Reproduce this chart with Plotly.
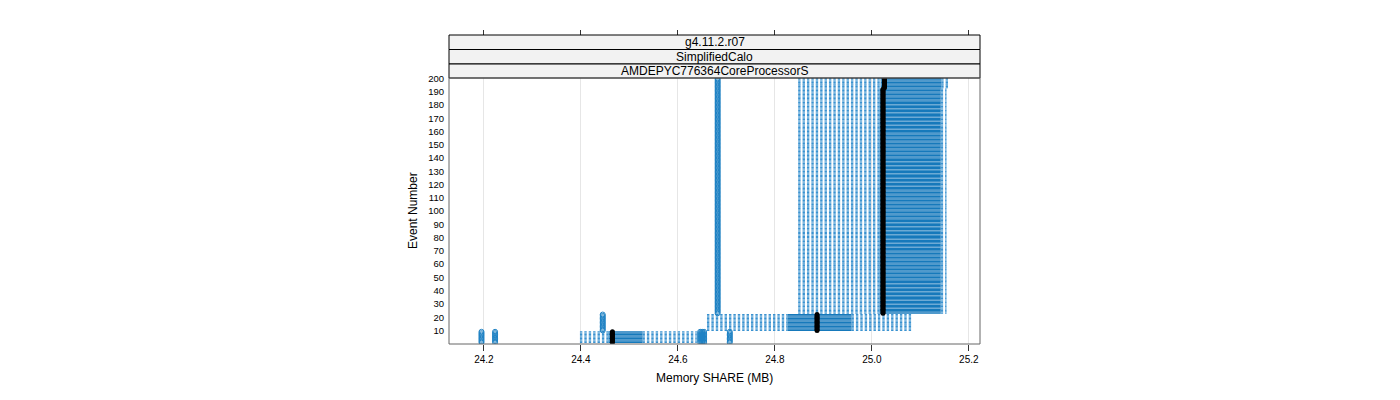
import plotly.graph_objects as go

# one box-and-whisker row per event; consecutive events share the same summary
seg_first = [1, 10, 23, 193]
seg_last = [9, 22, 192, 200]
seg_lo = [24.398, 24.660, 24.848, 24.848]
seg_q1 = [24.457, 24.826, 25.016, 25.018]
seg_med = [24.465, 24.887, 25.023, 25.026]
seg_q3 = [24.527, 24.958, 25.142, 25.143]
seg_hi = [24.639, 25.084, 25.154, 25.158]
seg_out = [
    [24.195, 24.223, 24.646, 24.650, 24.654, 24.707],
    [24.445],
    [24.682],
    [24.682],
]

x_ticks = [24.2, 24.4, 24.6, 24.8, 25.0, 25.2]
x_ticklabels = ["24.2", "24.4", "24.6", "24.8", "25.0", "25.2"]
y_ticks = list(range(10, 201, 10))
strips = ["g4.11.2.r07", "SimplifiedCalo", "AMDEPYC776364CoreProcessorS"]

# panel geometry, in screen pixels; the page body adds an 8px offset
OFF = 8
L, R, T, B = 449 - OFF, 980 - OFF, 78 - OFF, 344 - OFF
TOP = 35 - OFF  # top tick axis sits above the strips
W, H = 1400, 400
xrange = [24.128, 25.223]
yrange = [-0.2, 200.4]

wx, wy, bx, by, mx, my, ox, oy = [], [], [], [], [], [], [], []
for i in range(len(seg_first)):
    for ev in range(seg_first[i], seg_last[i] + 1):
        wx += [seg_lo[i], seg_q1[i], None, seg_q3[i], seg_hi[i], None]
        wy += [ev, ev, None, ev, ev, None]
        bx += [seg_q1[i], seg_q3[i], None]
        by += [ev, ev, None]
        mx.append(seg_med[i])
        my.append(ev)
        for o in seg_out[i]:
            ox.append(o)
            oy.append(ev)

fig = go.Figure()
fig.add_trace(go.Scatter(x=wx, y=wy, mode="lines", hoverinfo="skip",
                         line=dict(color="#3a92d0", width=1.1, dash="2.4px,2px")))
fig.add_trace(go.Scatter(x=bx, y=by, mode="lines", hoverinfo="skip",
                         line=dict(color="#1679bb", width=1.25)))
fig.add_trace(go.Scatter(x=ox, y=oy, mode="markers", hoverinfo="skip",
                         marker=dict(symbol="circle-open", size=5, color="#1f82c4",
                                     line=dict(width=1, color="#1f82c4"))))
fig.add_trace(go.Scatter(x=mx, y=my, mode="markers", hoverinfo="skip",
                         marker=dict(symbol="circle", size=5, color="black")))
# dummy trace so the top tick axis is drawn
fig.add_trace(go.Scatter(x=[x_ticks[0]], y=[0], xaxis="x2", mode="markers",
                         marker=dict(opacity=0), hoverinfo="skip"))

pw, ph = R - L, B - TOP


def py(p):
    # screen pixel row -> paper y
    return (B - (p - OFF)) / ph


def px(p):
    return ((p - OFF) - L) / pw


shapes = []
edges = [35, 49.5, 64, 78]
for k in range(3):
    shapes.append(dict(type="rect", xref="paper", yref="paper", x0=0, x1=1,
                       y0=py(edges[k + 1]), y1=py(edges[k]),
                       fillcolor="#f2f2f2", line=dict(color="black", width=1), layer="above"))
shapes.append(dict(type="rect", xref="paper", yref="paper", x0=0, x1=1, y0=0, y1=py(78),
                   line=dict(color="#666666", width=1), layer="above"))

annotations = []
for k, s in enumerate(strips):
    annotations.append(dict(text=s, xref="paper", yref="paper", x=0.5,
                            y=py((edges[k] + edges[k + 1]) / 2), showarrow=False,
                            font=dict(size=12, color="black"),
                            xanchor="center", yanchor="middle"))
annotations.append(dict(text="Memory SHARE (MB)", xref="paper", yref="paper", x=0.5,
                        y=py(378), showarrow=False, font=dict(size=12, color="black"),
                        xanchor="center", yanchor="middle"))
annotations.append(dict(text="Event Number", xref="paper", yref="paper", x=px(413),
                        y=py(211), showarrow=False, textangle=-90,
                        font=dict(size=12, color="black"),
                        xanchor="center", yanchor="middle"))

fig.update_layout(
    width=W, height=H,
    margin=dict(l=L, r=W - R, t=TOP, b=H - B, pad=0, autoexpand=False),
    plot_bgcolor="white", paper_bgcolor="white",
    showlegend=False,
    font=dict(family="Liberation Sans, Arial, sans-serif", color="black"),
    xaxis=dict(range=xrange, tickvals=x_ticks, ticktext=x_ticklabels,
               ticks="outside", ticklen=6, tickcolor="#333333", automargin=False,
               showgrid=True, gridcolor="#e6e6e6", gridwidth=1,
               zeroline=False, showline=False, tickfont=dict(size=10)),
    xaxis2=dict(range=xrange, overlaying="x", side="top", anchor="free",
                position=1, tickvals=x_ticks, showticklabels=False, automargin=False,
                ticks="outside", ticklen=5, tickcolor="#333333",
                showgrid=False, zeroline=False, showline=False),
    yaxis=dict(range=yrange, domain=[0, py(78)], tickvals=y_ticks, ticks="",
               automargin=False,
               showgrid=False, zeroline=False, showline=False, ticklabelstandoff=4,
               tickfont=dict(size=9.5)),
    shapes=shapes,
    annotations=annotations,
)

fig.write_html("out.html")
